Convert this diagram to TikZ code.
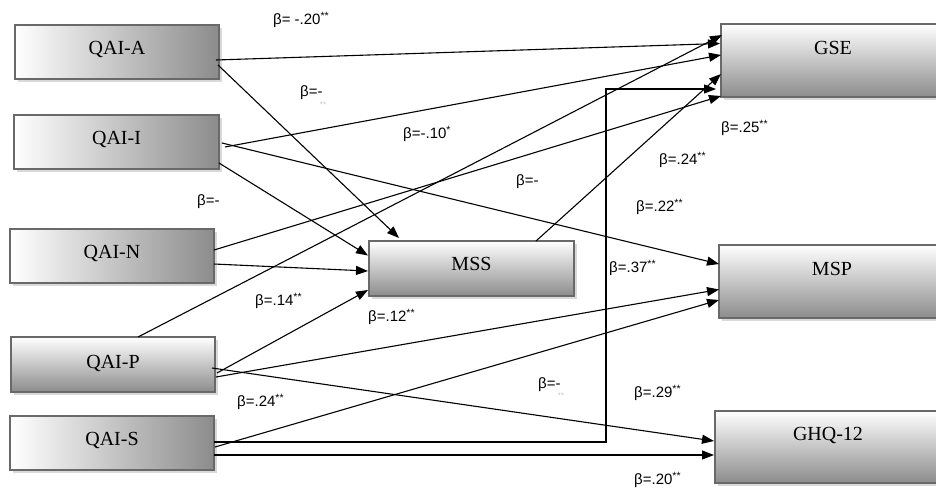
\documentclass[tikz,border=0pt]{standalone}
\usepackage{fontspec}
\setmainfont{Liberation Serif}
\newfontfamily\labfont{Liberation Sans}
\usetikzlibrary{arrows.meta,calc,shadows}
\definecolor{bord}{RGB}{105,105,105}
\definecolor{shadegray}{RGB}{140,140,140}
\begin{document}
\begin{tikzpicture}[x=1pt,y=-1pt,
  boxbase/.style={draw=bord,line width=1.2pt,inner sep=0pt,outer sep=0pt,
    drop shadow={shadow xshift=3pt,shadow yshift=-3pt,fill=gray!30,opacity=1}},
  hbox/.style={boxbase,left color=white,middle color=gray!22,right color=shadegray},
  vbox/.style={boxbase,top color=white,middle color=gray!18,bottom color=shadegray},
  btxt/.style={anchor=base,inner sep=0pt,font=\fontsize{20}{22}\selectfont},
  lab/.style={anchor=west,inner sep=0pt,font=\labfont\fontsize{15}{17}\selectfont},
  faint/.style={inner sep=0pt,text=gray!45,font=\labfont\fontsize{8}{9}\selectfont},
  arr/.style={-{Triangle[length=12pt,width=9pt]},line width=1.1pt,black}
]
\useasboundingbox (0,0) rectangle (936,488);
\clip (0,0) rectangle (936,488);
\fill[white] (0,0) rectangle (936,488);

% boxes
\node[hbox,minimum width=204pt,minimum height=54pt] (qaia) at (117,52) {};
\node[hbox,minimum width=205pt,minimum height=54pt] (qaii) at (116.5,142) {};
\node[hbox,minimum width=204pt,minimum height=54pt] (qain) at (112,256) {};
\node[vbox,minimum width=204pt,minimum height=55pt] (qaip) at (113,364.5) {};
\node[hbox,minimum width=204pt,minimum height=54pt] (qais) at (112,443) {};
\node[vbox,minimum width=205pt,minimum height=55pt] (mss) at (471.5,268.5) {};
\node[vbox,minimum width=226pt,minimum height=73pt] (gse) at (834,60.5) {};
\node[vbox,minimum width=226pt,minimum height=73pt] (msp) at (832,281.5) {};
\node[vbox,minimum width=226pt,minimum height=72pt] (ghq) at (828,447) {};

% box texts
\node[btxt] (tqaia) at ($(qaia.north)+(0,29.5)$) {QAI-A};
\node[btxt] (tqaii) at ($(qaii.north)+(0,29.5)$) {QAI-I};
\node[btxt] (tqain) at ($(qain.north)+(0,29.5)$) {QAI-N};
\node[btxt] (tqaip) at ($(qaip.north)+(0,31)$) {QAI-P};
\node[btxt] (tqais) at ($(qais.north)+(0,29.5)$) {QAI-S};
\node[btxt] (tmss) at ($(mss.north)+(0,29.5)$) {MSS};
\node[btxt] (tgse) at ($(gse.north)+(-1,30)$) {GSE};
\node[btxt] (tmsp) at ($(msp.north)+(0,30.5)$) {MSP};
\node[btxt] (tghq) at ($(ghq.north)+(0,29.5)$) {GHQ-12};

% connectors
\draw[arr] ($(qaia.east)+(-3,8)$) -- ($(gse.west)+(-1,-17)$);
\draw[arr] ($(qaia.east)+(-1,13)$) -- ($(mss.north west)+(30,-3)$);
\draw[arr] ($(qaii.east)+(6,5)$) -- ($(gse.west)+(0,-5.5)$);
\draw[arr] ($(qaii.east)+(3,1)$) -- ($(msp.west)+(0,-17.5)$);
\draw[arr] ($(qaii.east)+(0,21)$) -- ($(mss.west)+(-1,-13)$);
\draw[arr] ($(qain.east)+(0,-6)$) -- ($(gse.west)+(0,35.5)$);
\draw[arr] ($(qain.east)+(0,8)$) -- ($(mss.west)+(-1,2.5)$);
\draw[arr] ($(qaip.north)+(25,0)$) -- ($(gse.west)+(1,-25.5)$);
\draw[arr] ($(qaip.east)+(2,8.5)$) -- ($(mss.west)+(-1,21.5)$);
\draw[arr] ($(qaip.east)+(1,12.5)$) -- ($(msp.west)+(0,8)$);
\draw[arr] ($(qaip.east)+(-3,3.5)$) -- ($(ghq.west)+(-1,-6)$);
\draw[arr] ($(qais.east)+(1,4)$) -- ($(msp.west)+(0,18.5)$);
\coordinate (elbow) at (606,89);
\draw[arr] ($(qais.east)+(0,-1)$) -| (elbow) -- ($(gse.west)+(-5,28.5)$);
\draw[arr] ($(qais.east)+(0,12)$) -- ($(ghq.west)+(-1,8)$);
\draw[arr] ($(mss.north)+(64.5,0)$) -- ($(gse.west)+(0,13.5)$);

% labels
\node[lab] (l1) at (273,20) {β= -.20\textsuperscript{**}};
\node[lab] (l2) at (300,93) {β=-};
\node[faint] (l2s) at (323,105) {**};
\node[lab] (l3) at (403,134) {β=-.10\textsuperscript{*}};
\node[lab] (l4) at (197,202) {β=-};
\node[lab] (l5) at (516,182) {β=-};
\node[lab] (l6) at (721,128) {β=.25\textsuperscript{**}};
\node[lab] (l7) at (659,160) {β=.24\textsuperscript{**}};
\node[lab] (l8) at (636,207) {β=.22\textsuperscript{**}};
\node[lab] (l9) at (609,268) {β=.37\textsuperscript{**}};
\node[lab] (l10) at (255,301) {β=.14\textsuperscript{**}};
\node[lab] (l11) at (368,317) {β=.12\textsuperscript{**}};
\node[lab] (l12) at (237,402) {β=.24\textsuperscript{**}};
\node[lab] (l13) at (538,385) {β=-};
\node[faint] (l13s) at (561,396) {**};
\node[lab] (l14) at (634,393) {β=.29\textsuperscript{**}};
\node[lab] (l15) at (634,480) {β=.20\textsuperscript{**}};
\end{tikzpicture}
\end{document}
